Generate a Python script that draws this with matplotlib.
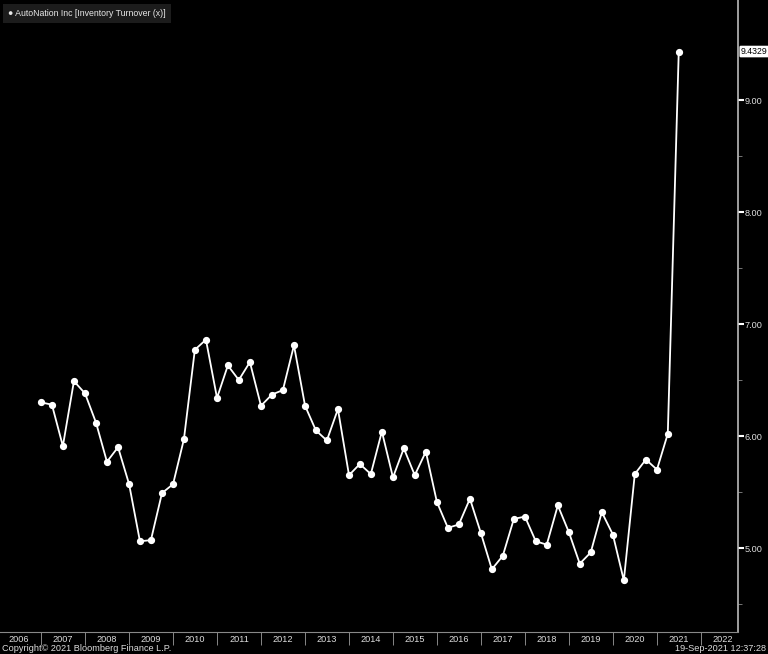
"""AutoNation inventory turnover, Bloomberg style"""
import matplotlib
matplotlib.use('Agg')
import matplotlib.pyplot as plt
import matplotlib.dates as mdates
import pandas as pd

# quarterly readings, Q4 2006 .. Q2 2021
dates = pd.date_range('2006-12-31', '2021-06-30', freq='QE')
turnover = [6.30, 6.28, 5.91, 6.49, 6.38, 6.12, 5.77, 5.90, 5.57, 5.06,
            5.07, 5.49, 5.57, 5.97, 6.77, 6.86, 6.34, 6.63, 6.50, 6.66,
            6.27, 6.37, 6.41, 6.81, 6.27, 6.05, 5.96, 6.24, 5.65, 5.75,
            5.66, 6.04, 5.63, 5.89, 5.65, 5.86, 5.41, 5.18, 5.21, 5.44,
            5.13, 4.81, 4.93, 5.26, 5.28, 5.06, 5.03, 5.38, 5.14, 4.86,
            4.96, 5.32, 5.12, 4.71, 5.66, 5.79, 5.70, 6.02, 9.4329]
y_ticks = [5.0, 6.0, 7.0, 8.0, 9.0]
series_name = 'AutoNation Inc [Inventory Turnover (x)]'
last_label = '9.4329'

plt.rcParams['font.family'] = ['Liberation Sans', 'DejaVu Sans']
fs = 6.3

fig = plt.figure(figsize=(7.68, 6.54), dpi=100, facecolor='black')
ax = fig.add_axes([0.0, 22 / 654, 738 / 768, 632 / 654], facecolor='black')

ax.plot(dates, turnover, color='white', lw=1.3, marker='o', ms=4.2,
        mfc='white', mec='white')

ax.set_xlim(pd.Timestamp('2006-01-24'), pd.Timestamp('2022-11-04'))
ax.set_ylim(4.25, 9.893)

# spines
for s in ['top', 'left']:
    ax.spines[s].set_visible(False)
ax.spines['right'].set_color('#bbbbbb')
ax.spines['bottom'].set_color('#888888')
ax.spines['right'].set_linewidth(1.2)
ax.spines['bottom'].set_linewidth(0.8)

# y axis on the right
ax.yaxis.tick_right()
ax.set_yticks(y_ticks)
ax.set_yticklabels(['%.2f' % v for v in y_ticks])
ax.set_yticks([4.5, 5.5, 6.5, 7.5, 8.5], minor=True)
ax.tick_params(axis='y', which='major', direction='out', length=4, width=1.5,
               color='white', labelcolor='#dddddd', labelsize=fs + 0.3, pad=1)
ax.tick_params(axis='y', which='minor', direction='out', length=3, width=0.6,
               color='#888888')

# x axis: separators at year starts, labels mid-year
ax.xaxis.set_major_locator(mdates.YearLocator())
ax.xaxis.set_major_formatter(plt.NullFormatter())
ax.xaxis.set_minor_locator(mdates.MonthLocator(bymonth=7))
ax.xaxis.set_minor_formatter(mdates.DateFormatter('%Y'))
ax.tick_params(axis='x', which='major', direction='out', length=9, width=0.7,
               color='#888888')
ax.tick_params(axis='x', which='minor', length=0, labelcolor='#dddddd',
               labelsize=fs + 0.3, pad=2)

# legend box
ax.text(0.011, 0.979, '\u25CF ' + series_name, transform=ax.transAxes,
        color='#e8e8e8', fontsize=fs, va='center', ha='left',
        bbox=dict(boxstyle='square,pad=0.55', fc='#1c1c1c', ec='none'))

# last value tag
ax.annotate(last_label, xy=(1.0, turnover[-1]),
            xycoords=('axes fraction', 'data'), xytext=(2, 0),
            textcoords='offset points', va='center', ha='left',
            fontsize=fs, color='black', annotation_clip=False,
            bbox=dict(boxstyle='round,pad=0.15', fc='white', ec='none'))

# footer
fig.text(0.002, 0.002, 'Copyright\u00a9 2021 Bloomberg Finance L.P.',
         color='#dddddd', fontsize=fs + 0.3, ha='left', va='bottom')
fig.text(0.997, 0.002, '19-Sep-2021 12:37:28', color='#dddddd',
         fontsize=fs + 0.3, ha='right', va='bottom')

fig.savefig('out.png', dpi=100, facecolor='black')
